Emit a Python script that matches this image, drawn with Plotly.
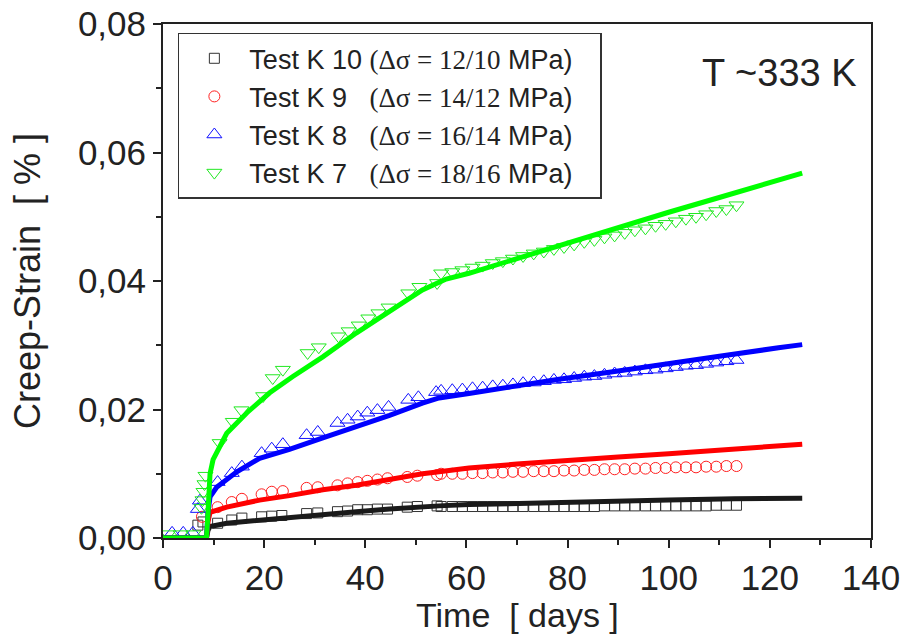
import plotly.graph_objects as go

# ---------------- data ----------------
late_days = [55.0, 57.2, 59.2, 61.2, 63.2, 65.2, 67.2, 69.2, 71.2, 73.3, 75.3, 77.3,
             79.3, 81.3, 83.3, 85.3, 87.3, 89.3, 91.3, 93.3, 95.4, 97.4, 99.4, 101.4,
             103.4, 105.4, 107.4, 109.4, 111.4, 113.4]

k7_days = [1.0, 3.5, 6.0, 7.6, 7.8, 8.0, 8.2, 8.4, 11.2, 13.8, 15.5, 19.8, 21.7, 23.7,
           28.6, 30.8, 34.7, 36.7, 38.7, 40.6, 42.6, 44.6, 48.5, 50.7, 54.2] + late_days
k7_strain = [0.0006, 0.0006, 0.0006, 0.0047, 0.0059, 0.0072, 0.0084, 0.0097, 0.0148,
             0.0181, 0.0199, 0.0221, 0.0249, 0.0262, 0.0288, 0.0297, 0.0314, 0.0322,
             0.0331, 0.0342, 0.0350, 0.0359, 0.0381, 0.0391, 0.0397,
             0.0412, 0.0414, 0.0417, 0.0421, 0.0424, 0.0428, 0.0431, 0.0435, 0.0439,
             0.0443, 0.0446, 0.0450, 0.0453, 0.0457, 0.0461, 0.0464, 0.0468, 0.0471,
             0.0475, 0.0479, 0.0482, 0.0486, 0.0489, 0.0493, 0.0497, 0.0500, 0.0504,
             0.0509, 0.0512, 0.0518]

k8_days = [1.8, 4.0, 5.9, 6.9, 7.3, 10.8, 13.6, 15.6, 19.5, 21.5, 23.7, 28.4, 30.6, 34.5,
           36.5, 38.5, 40.4, 42.4, 44.6, 48.5, 50.5, 54.0] + late_days
k8_strain = [0.0008, 0.0008, 0.0008, 0.0045, 0.0058, 0.0087, 0.0101, 0.0111, 0.0132,
             0.0139, 0.0146, 0.0160, 0.0165, 0.0179, 0.0184, 0.0189, 0.0195, 0.0199,
             0.0204, 0.0215, 0.0219, 0.0227,
             0.0229, 0.0230, 0.0231, 0.0233, 0.0234, 0.0236, 0.0237, 0.0239, 0.0241,
             0.0242, 0.0244, 0.0246, 0.0247, 0.0249, 0.0251, 0.0252, 0.0254, 0.0256,
             0.0257, 0.0259, 0.0261, 0.0262, 0.0264, 0.0266, 0.0268, 0.0269, 0.0271,
             0.0273, 0.0275, 0.0277]

k9_days = [7.7, 10.8, 13.6, 15.6, 19.5, 21.5, 23.7, 28.4, 30.6, 34.5, 36.5, 38.5, 40.4,
           42.4, 44.4, 48.3, 50.3, 54.2] + late_days
k9_strain = [0.0033, 0.0048, 0.0056, 0.0061, 0.0068, 0.0072, 0.0073, 0.0078, 0.0079,
             0.0082, 0.0085, 0.0087, 0.0089, 0.0091, 0.0093, 0.0095, 0.0097, 0.0098,
             0.0100, 0.0100, 0.0100, 0.0101, 0.0101, 0.0102, 0.0102, 0.0103, 0.0103,
             0.0104, 0.0104, 0.0104, 0.0105, 0.0105, 0.0106, 0.0106, 0.0107, 0.0107,
             0.0107, 0.0108, 0.0108, 0.0109, 0.0109, 0.0110, 0.0110, 0.0110, 0.0111,
             0.0111, 0.0112, 0.0112]

k10_days = [6.9, 7.9, 10.8, 13.6, 15.6, 19.5, 21.5, 23.5, 28.4, 30.6, 34.5, 36.5, 38.5,
            40.4, 42.4, 44.4, 48.3, 50.3, 54.2] + late_days
k10_strain = [0.0020, 0.0025, 0.0023, 0.0028, 0.0031, 0.0033, 0.0034, 0.0035, 0.0038,
              0.0039, 0.0041, 0.0042, 0.0044, 0.0044, 0.0045, 0.0045, 0.0048, 0.0049,
              0.0050,
              0.0049, 0.0049, 0.0049, 0.0049, 0.0049, 0.0049, 0.0049, 0.0049, 0.0049,
              0.0049, 0.0049, 0.0049, 0.0049, 0.0049, 0.0049, 0.0049, 0.0050, 0.0050,
              0.0050, 0.0050, 0.0050, 0.0050, 0.0050, 0.0050, 0.0050, 0.0050, 0.0050,
              0.0051, 0.0051, 0.0051]

# fitted model curves
k7_fit_days = [0, 8.6, 8.9, 9.3, 9.9, 11.2, 12.6, 16.6, 21.1, 25.6, 31.6, 38.2, 44.8,
               51.3, 54.6, 56.0, 60.5, 70, 78.3, 90, 100, 110, 121.7, 126.4]
k7_fit = [0, 0, 0.0040, 0.0100, 0.0122, 0.0142, 0.0163, 0.0195, 0.0226, 0.0251, 0.0282,
          0.0319, 0.0352, 0.0386, 0.0398, 0.0403, 0.0412, 0.0435, 0.0456, 0.0483, 0.0507,
          0.0530, 0.0557, 0.0568]

k8_fit_days = [0, 8.6, 8.9, 9.3, 10.6, 14.6, 19.1, 25.0, 31.6, 38.2, 44.8, 51.3, 54.6,
               60.5, 70, 78.3, 90, 100, 110, 121.7, 126.4]
k8_fit = [0, 0, 0.0040, 0.0064, 0.0079, 0.0103, 0.0124, 0.0138, 0.0156, 0.0173, 0.0191,
          0.0210, 0.0218, 0.0225, 0.0237, 0.0247, 0.0260, 0.0272, 0.0283, 0.0296, 0.0301]

k9_fit_days = [0, 8.6, 8.9, 9.3, 12.6, 19.1, 25.0, 31.6, 38.2, 44.8, 51.3, 54.6, 60.5,
               70, 78.3, 90, 100, 110, 126.4]
k9_fit = [0, 0, 0.0025, 0.0040, 0.0048, 0.0059, 0.0066, 0.0075, 0.0082, 0.0092, 0.0100,
          0.0103, 0.0109, 0.0115, 0.0120, 0.0126, 0.0131, 0.0137, 0.0146]

k10_fit_days = [0, 8.6, 8.9, 9.3, 12.6, 19.1, 25.0, 31.6, 38.2, 44.8, 51.3, 54.6, 60.5,
                70, 78.3, 90, 100, 113, 126.4]
k10_fit = [0, 0, 0.0012, 0.0018, 0.0023, 0.0028, 0.0032, 0.0036, 0.0041, 0.0045, 0.0049,
           0.0050, 0.0052, 0.0054, 0.0056, 0.0058, 0.0059, 0.0061, 0.0062]

x_ticks = [0, 20, 40, 60, 80, 100, 120, 140]
y_ticks = [0.00, 0.02, 0.04, 0.06, 0.08]

SANS = "Liberation Sans, Arial, Helvetica, sans-serif"
SERIF = "Liberation Serif, Times New Roman, serif"
NB = "\u00a0"

def lab(test, stress, pad):
    return (f"Test K {test}{NB * pad}<span style=\"font-family:{SERIF}\">(Δσ = {stress}</span>"
            f" MPa){NB * 3}")

series = [
    ("10", "12/10", 1, k10_days, k10_strain, k10_fit_days, k10_fit, "square-open", 10, "#333333", "#1a1a1a"),
    ("9", "14/12", 3, k9_days, k9_strain, k9_fit_days, k9_fit, "circle-open", 11, "#ff2020", "#ff0000"),
    ("8", "16/14", 3, k8_days, k8_strain, k8_fit_days, k8_fit, "triangle-up-open", 13, "#1010ff", "#0000ff"),
    ("7", "18/16", 3, k7_days, k7_strain, k7_fit_days, k7_fit, "triangle-down-open", 13, "#22e822", "#00ff00"),
]

fig = go.Figure()
for test, stress, pad, xd, yd, xf, yf, sym, sz, mc, lc in series:
    fig.add_trace(go.Scatter(
        x=xd, y=yd, mode="markers", name=lab(test, stress, pad),
        marker=dict(symbol=sym, size=sz, color=mc, line=dict(width=1, color=mc)),
    ))
for test, stress, pad, xd, yd, xf, yf, sym, sz, mc, lc in series:
    fig.add_trace(go.Scatter(
        x=xf, y=yf, mode="lines", showlegend=False,
        line=dict(color=lc, width=5),
    ))

axis_common = dict(
    showgrid=False, zeroline=False, showline=True, linecolor="#222222", linewidth=2,
    mirror=True, ticks="outside", ticklen=8, tickwidth=2, tickcolor="#222222",
    tickfont=dict(family=SANS, size=35, color="#222222"), automargin=False,
    ticklabeloverflow="allow",
)

fig.update_layout(
    width=903, height=637,
    margin=dict(l=163, r=32, t=24, b=99),
    paper_bgcolor="white", plot_bgcolor="white",
    separators=",.",
    xaxis=dict(range=[0, 140], tickvals=x_ticks,
               minor=dict(dtick=10, ticks="outside", ticklen=5, tickwidth=2, tickcolor="#222222"),
               **axis_common),
    yaxis=dict(range=[0, 0.08], tickvals=y_ticks, tickformat=".2f",
               minor=dict(dtick=0.01, ticks="outside", ticklen=5, tickwidth=2, tickcolor="#222222"),
               title=dict(text=f"Creep-Strain{NB}{NB}[ % ]", font=dict(family=SANS, size=36, color="#222222"),
                          standoff=26),
               **axis_common),
    legend=dict(x=0.021, y=0.983, xanchor="left", yanchor="top",
                bgcolor="white", bordercolor="#333333", borderwidth=1.5,
                font=dict(family=SANS, size=27, color="#222222"),
                tracegroupgap=0, itemwidth=60),
    annotations=[
        dict(text="T ~333 K", x=0.758, y=0.905, xref="paper", yref="paper",
             xanchor="left", yanchor="middle", showarrow=False,
             font=dict(family=SANS, size=38, color="#222222")),
        dict(text=f"Time{NB}{NB}[ days ]", x=0.5, y=-0.149, xref="paper", yref="paper",
             xanchor="center", yanchor="middle", showarrow=False,
             font=dict(family=SANS, size=34, color="#222222")),
    ],
)

fig.write_html("out.html", config={"displayModeBar": False},
               post_script="document.body.style.margin='0px';")
